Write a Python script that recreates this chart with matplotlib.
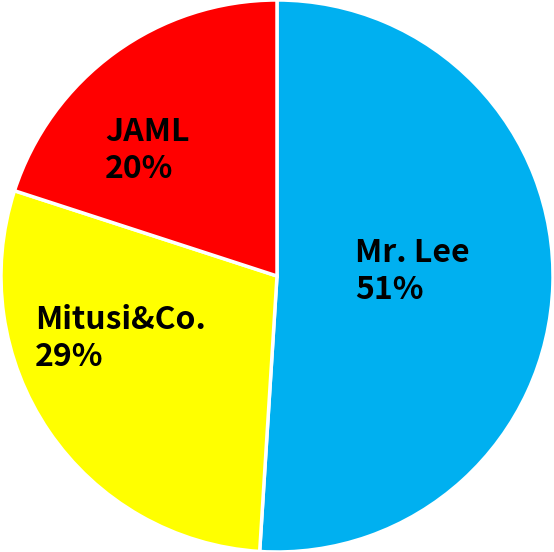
import matplotlib
matplotlib.use("Agg")
import matplotlib.pyplot as plt

categories = ["Mr. Lee", "Mitusi&Co.", "JAML"]
values = [51, 29, 20]
colors = ["#00B0F0", "#FFFF00", "#FF0000"]
label_pos = [(0.283, 0.018), (-0.877, -0.225), (-0.623, 0.453)]

plt.rcParams['font.family'] = ['Noto Sans CJK JP', 'DejaVu Sans']

fig = plt.figure(figsize=(5.54, 5.52), dpi=100)
ax = fig.add_axes([0, 0, 1, 1])
ax.pie(values, colors=colors, startangle=90, counterclock=False, radius=1.0,
       wedgeprops=dict(edgecolor="white", linewidth=2.5))
total = sum(values)
for cat, v, (x, y) in zip(categories, values, label_pos):
    ax.text(x, y, f"{cat}\n{round(100 * v / total)}%", ha="left", va="center",
            fontsize=23, fontweight="bold", color="black", linespacing=1.2)
ax.set_xlim(-554 / 2 / 276, 554 / 2 / 276)
ax.set_ylim(-1.0, 1.0)
ax.set_aspect("auto")
ax.axis("off")
fig.savefig("out.png", dpi=100)
